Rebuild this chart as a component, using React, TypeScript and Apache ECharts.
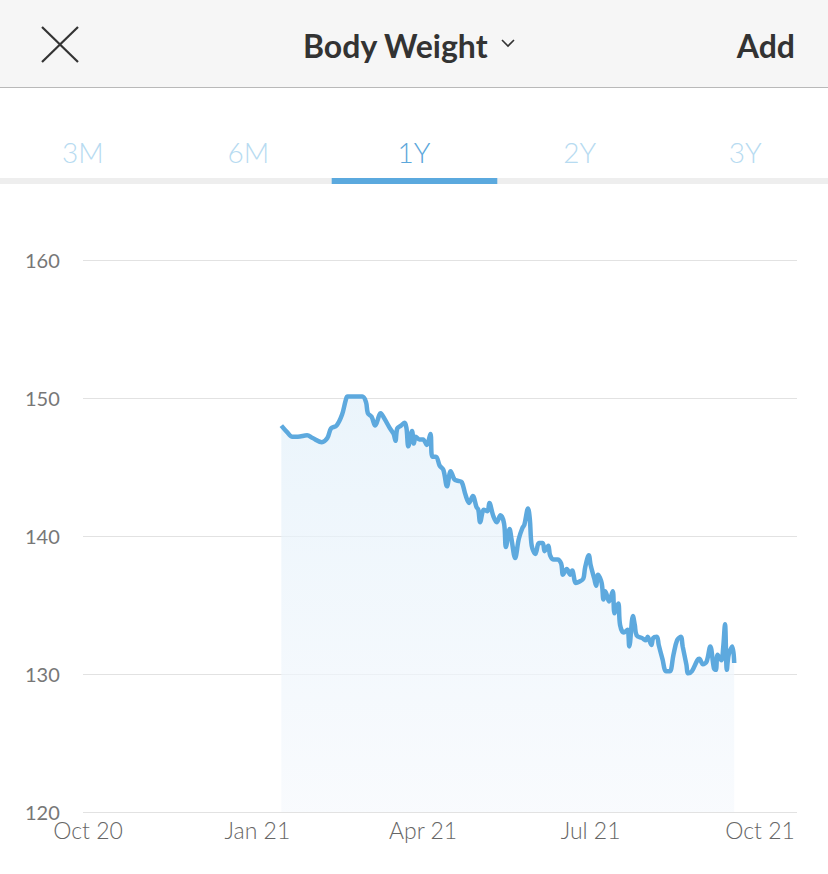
import React, { useEffect, useRef } from "react";
import * as echarts from "echarts";

const title = "Body Weight";
const tabs = ["3M", "6M", "1Y", "2Y", "3Y"];
const activeTab = 2;

const xTickDates = ["2020-10-01", "2021-01-01", "2021-04-01", "2021-07-01", "2021-10-01"];
const xTickLabels = ["Oct 20", "Jan 21", "Apr 21", "Jul 21", "Oct 21"];
const yMin = 120;
const yMax = 160;
const yStep = 10;

const dates = [
  "2021-01-14", "2021-01-17", "2021-01-20", "2021-01-23", "2021-01-28", "2021-01-31",
  "2021-02-05", "2021-02-08", "2021-02-10", "2021-02-13", "2021-02-16", "2021-02-18",
  "2021-02-19", "2021-02-27", "2021-03-01", "2021-03-02", "2021-03-04", "2021-03-06",
  "2021-03-09", "2021-03-11", "2021-03-14", "2021-03-16", "2021-03-17", "2021-03-18",
  "2021-03-20", "2021-03-22", "2021-03-23", "2021-03-24", "2021-03-26", "2021-03-27",
  "2021-03-28", "2021-03-30", "2021-04-01", "2021-04-03", "2021-04-05", "2021-04-06",
  "2021-04-08", "2021-04-10", "2021-04-12", "2021-04-14", "2021-04-16", "2021-04-18",
  "2021-04-20", "2021-04-22", "2021-04-24", "2021-04-26", "2021-04-28", "2021-04-30",
  "2021-05-01", "2021-05-02", "2021-05-04", "2021-05-06", "2021-05-07", "2021-05-09",
  "2021-05-11", "2021-05-13", "2021-05-15", "2021-05-16", "2021-05-18", "2021-05-19",
  "2021-05-21", "2021-05-23", "2021-05-25", "2021-05-26", "2021-05-28", "2021-05-29",
  "2021-05-30", "2021-06-01", "2021-06-03", "2021-06-05", "2021-06-06", "2021-06-08",
  "2021-06-09", "2021-06-11", "2021-06-13", "2021-06-15", "2021-06-16", "2021-06-18",
  "2021-06-20", "2021-06-21", "2021-06-23", "2021-06-25", "2021-06-27", "2021-06-28",
  "2021-06-30", "2021-07-01", "2021-07-03", "2021-07-04", "2021-07-05", "2021-07-07",
  "2021-07-08", "2021-07-09", "2021-07-11", "2021-07-13", "2021-07-14", "2021-07-16",
  "2021-07-17", "2021-07-19", "2021-07-21", "2021-07-22", "2021-07-24", "2021-07-25",
  "2021-07-26", "2021-07-29", "2021-07-31", "2021-08-01", "2021-08-03", "2021-08-04",
  "2021-08-06", "2021-08-07", "2021-08-09", "2021-08-11", "2021-08-13", "2021-08-15",
  "2021-08-17", "2021-08-19", "2021-08-20", "2021-08-22", "2021-08-23", "2021-08-25",
  "2021-08-28", "2021-08-29", "2021-08-31", "2021-09-02", "2021-09-04", "2021-09-06",
  "2021-09-07", "2021-09-08", "2021-09-10", "2021-09-11", "2021-09-12", "2021-09-13",
  "2021-09-14", "2021-09-16", "2021-09-17",
];

const weights = [
  148.0, 147.55, 147.2, 147.2, 147.3, 147.1,
  146.8, 147.1, 147.8, 148.0, 148.8, 149.85,
  150.1, 150.1, 149.7, 148.9, 148.65, 148.0,
  148.9, 148.5, 147.8, 147.4, 146.9, 147.8,
  148.0, 148.2, 147.8, 146.5, 147.6, 146.7,
  147.2, 147.0, 147.0, 146.6, 147.4, 145.75,
  145.75, 145.1, 144.8, 143.6, 144.7, 144.1,
  144.0, 143.9, 143.0, 142.4, 142.9, 142.1,
  141.9, 141.0, 141.9, 141.8, 142.4, 141.5,
  141.0, 141.5, 140.9, 139.2, 140.5, 139.8,
  138.4, 139.8, 140.6, 140.8, 142.0, 141.2,
  139.3, 138.7, 139.5, 139.5, 138.9, 139.3,
  138.6, 138.3, 138.3, 138.0, 137.2, 137.6,
  137.2, 137.5, 136.6, 136.7, 136.9, 137.7,
  138.6, 137.9, 136.9, 136.4, 137.2, 136.6,
  135.4, 136.0, 135.25, 136.0, 134.4, 135.1,
  133.55, 133.0, 133.2, 132.0, 134.2, 133.55,
  132.8, 132.6, 132.45, 132.7, 132.1, 132.6,
  132.7, 132.1, 131.1, 130.2, 130.2, 131.4,
  132.45, 132.7, 132.0, 130.7, 130.05, 130.2,
  131.0, 131.1, 130.7, 130.9, 132.0, 130.4,
  130.3, 131.4, 131.0, 131.9, 133.6, 130.3,
  131.4, 132.0, 130.8,
];

const DAY = 86400000;
const toTs = (s: string) => {
  const [y, m, d] = s.split("-").map(Number);
  return Date.UTC(y, m - 1, d);
};

export default function App() {
  const ref = useRef<HTMLDivElement>(null);

  useEffect(() => {
    if (!ref.current) return;
    const chart = echarts.init(ref.current, undefined, { renderer: "svg" });
    const tickTs = xTickDates.map(toTs);
    const data = dates.map((d, i) => [toTs(d), weights[i]]);
    const font = "Lato, 'Noto Sans', sans-serif";

    const tabW = 828 / tabs.length;
    const graphic: any[] = [
      { type: "rect", shape: { x: 0, y: 0, width: 828, height: 87 }, style: { fill: "#f6f6f6" } },
      { type: "line", shape: { x1: 0, y1: 87.5, x2: 828, y2: 87.5 }, style: { stroke: "#b9b9b9", lineWidth: 1 } },
      { type: "line", shape: { x1: 42, y1: 27, x2: 78, y2: 62 }, style: { stroke: "#333", lineWidth: 2.2 } },
      { type: "line", shape: { x1: 78, y1: 27, x2: 42, y2: 62 }, style: { stroke: "#333", lineWidth: 2.2 } },
      {
        type: "text", x: 303, y: 45,
        style: { text: title, font: `bold 32px ${font}`, fill: "#333", textAlign: "left", textVerticalAlign: "middle" },
      },
      { type: "polyline", shape: { points: [[502, 40], [508, 46], [514, 40]] }, style: { stroke: "#333", lineWidth: 1.6, fill: "none" } },
      {
        type: "text", x: 795, y: 45,
        style: { text: "Add", font: `bold 32px ${font}`, fill: "#333", textAlign: "right", textVerticalAlign: "middle" },
      },
      { type: "rect", shape: { x: 0, y: 178, width: 828, height: 6 }, style: { fill: "#eeeeee" } },
      { type: "rect", shape: { x: tabW * activeTab + 0.5, y: 178, width: tabW, height: 6 }, style: { fill: "#5ba9de" } },
    ];
    tabs.forEach((t, i) => {
      graphic.push({
        type: "text", x: tabW * i + tabW / 2, y: 152,
        style: {
          text: t, font: `300 28px ${font}`,
          fill: i === activeTab ? "#5ba7db" : "#b7dbf1",
          textAlign: "center", textVerticalAlign: "middle",
        },
      });
    });

    chart.setOption({
      animation: false,
      backgroundColor: "#ffffff",
      graphic,
      grid: { left: 83, right: 31, top: 260, bottom: 62 },
      xAxis: {
        type: "value",
        min: tickTs[0] - 2.72 * DAY,
        max: tickTs[tickTs.length - 1] + 20.1 * DAY,
        axisLine: { show: false },
        axisTick: { show: false },
        splitLine: { show: false },
        axisLabel: {
          customValues: tickTs,
          margin: 6,
          fontFamily: font,
          fontWeight: 300,
          fontSize: 23,
          color: "#666",
          formatter: (v: number) => {
            const idx = tickTs.findIndex((t) => Math.abs(t - v) < DAY / 2);
            return idx >= 0 ? xTickLabels[idx] : "";
          },
        },
      },
      yAxis: {
        type: "value",
        min: yMin,
        max: yMax,
        interval: yStep,
        axisLine: { show: false },
        axisTick: { show: false },
        splitLine: { show: true, lineStyle: { color: "#e2e2e2", width: 1 } },
        axisLabel: {
          margin: 58,
          align: "left",
          fontFamily: font,
          fontSize: 20,
          color: "#777",
        },
      },
      series: [
        {
          type: "line",
          data,
          smooth: 0.35,
          showSymbol: false,
          lineStyle: { color: "#5da9de", width: 4.5 },
          areaStyle: {
            origin: "start",
            color: new echarts.graphic.LinearGradient(0, 0, 0, 1, [
              { offset: 0, color: "#e2f0fa" },
              { offset: 1, color: "#f6f9fd" },
            ]),
          },
        },
      ],
    });

    return () => chart.dispose();
  }, []);

  return (
    <div
      ref={ref}
      style={{ position: "fixed", left: 0, top: 0, width: 828, height: 874, background: "#fff" }}
    />
  );
}
